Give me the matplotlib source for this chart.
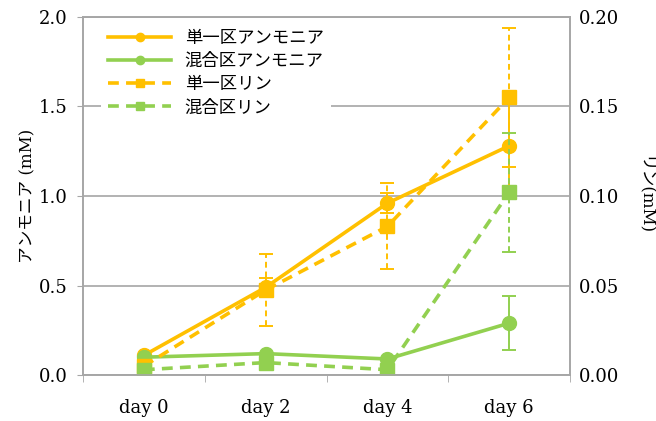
import matplotlib.pyplot as plt
from matplotlib.lines import Line2D
import numpy as np

plt.rcParams['font.family'] = ['DejaVu Serif', 'Noto Sans CJK JP']

days = ['day 0', 'day 2', 'day 4', 'day 6']
labels = ['単一区アンモニア', '混合区アンモニア', '単一区リン', '混合区リン']

# アンモニア (mM)
nh_single = [0.11, 0.49, 0.96, 1.28]
nh_single_err = [0.0, 0.05, 0.055, 0.26]
nh_mixed = [0.10, 0.12, 0.09, 0.29]
nh_mixed_err = [0.0, 0.0, 0.0, 0.15]

# リン (mM)
p_single = [0.005, 0.0475, 0.083, 0.155]
p_single_err = [0.0, 0.020, 0.024, 0.039]
p_mixed = [0.003, 0.007, 0.003, 0.102]
p_mixed_err = [0.0, 0.0, 0.0, 0.033]

orange = '#FFC000'
green = '#92D050'
grid_c = '#A6A6A6'

x = np.arange(len(days))

fig = plt.figure(figsize=(6.56, 4.21), dpi=100)
ax = fig.add_axes([0.1265, 0.109, 0.7425, 0.851])
ax2 = ax.twinx()

def draw(a, y, err, color, ls, marker, ms):
    line, caps, bars = a.errorbar(x, y, yerr=err, color=color, lw=2.6,
                                  marker=marker, ms=ms, capsize=5, elinewidth=1.4,
                                  capthick=1.4)
    if ls == '--':
        line.set_dashes((3, 2))
        for b in bars:
            b.set_linestyle((0, (3, 2)))

draw(ax, nh_single, nh_single_err, orange, '-', 'o', 10)
draw(ax, nh_mixed, nh_mixed_err, green, '-', 'o', 10)
draw(ax2, p_single, p_single_err, orange, '--', 's', 10)
draw(ax2, p_mixed, p_mixed_err, green, '--', 's', 10)

ax.set_xlim(-0.5, 3.5)
ax.set_ylim(0, 2.0)
ax2.set_ylim(0, 0.20)
ax.set_yticks(np.arange(0, 2.01, 0.5))
ax2.set_yticks(np.arange(0, 0.201, 0.05))
ax.set_yticklabels(['%.1f' % v for v in np.arange(0, 2.01, 0.5)])
ax2.set_yticklabels(['%.2f' % v for v in np.arange(0, 0.201, 0.05)])
ax.set_xticks(x)
ax.set_xticklabels(days)
ax.set_xticks(np.arange(-0.5, 3.6, 1), minor=True)
ax.tick_params(axis='x', which='major', length=0, pad=17, labelsize=13)
ax.tick_params(axis='x', which='minor', length=5, color=grid_c)
ax.tick_params(axis='y', length=4, color=grid_c, labelsize=13, pad=7)
ax2.tick_params(axis='y', length=0, labelsize=13, pad=6)

ax.yaxis.grid(True, color=grid_c, lw=1.2)
ax.set_axisbelow(True)
for a in (ax, ax2):
    for s in a.spines.values():
        s.set_color(grid_c)
        s.set_linewidth(1.2)

ax.set_ylabel('アンモニア (mM)', fontsize=12, labelpad=2)
ax2.set_ylabel('リン(mM)', fontsize=12, rotation=270, labelpad=16)
ax2.yaxis.set_label_coords(1.17, 0.5)

# 凡例は小さめのマーカーで
handles = [
    Line2D([], [], color=orange, lw=2.6, marker='o', ms=6),
    Line2D([], [], color=green, lw=2.6, marker='o', ms=6),
    Line2D([], [], color=orange, lw=2.6, marker='s', ms=6, dashes=(3, 2)),
    Line2D([], [], color=green, lw=2.6, marker='s', ms=6, dashes=(3, 2)),
]
ax2.legend(handles, labels, loc='upper left', bbox_to_anchor=(0.02, 1.01),
           frameon=True, fancybox=False, edgecolor='none', framealpha=1,
           handlelength=3.6, labelspacing=0.3, borderpad=0.4,
           prop={'family': ['Noto Sans CJK JP'], 'size': 12.5})

fig.savefig('out.png', dpi=100)
